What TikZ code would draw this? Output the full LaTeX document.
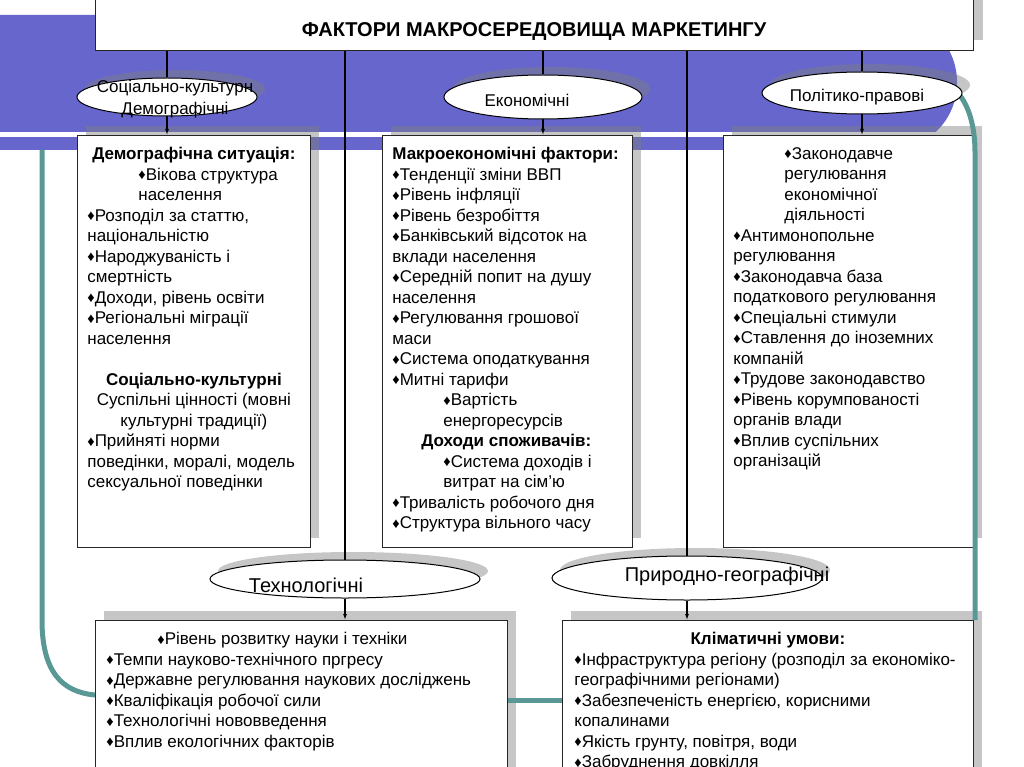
\documentclass[tikz,border=0pt]{standalone}
\usepackage{fontspec}
\setmainfont{Liberation Sans}
\usepackage{graphicx}
\usetikzlibrary{shapes.geometric, arrows.meta, shadows, positioning}
\definecolor{bandblue}{RGB}{102,102,204}
\definecolor{tealline}{RGB}{90,152,150}
\newcommand{\boxfont}{\fontsize{17}{20.5}\selectfont}
\newcommand{\dia}{\raisebox{0.5pt}{\scalebox{0.85}{♦}}}
\newcommand{\ind}{\hspace*{51pt}}
\newcommand{\centred}[1]{\makebox[\linewidth]{#1}}

\begin{document}
\begin{tikzpicture}[x=1pt, y=-1pt,
  titlebox/.style={draw=black!85, fill=white, line width=0.8pt, inner sep=0pt,
    minimum width=878pt, text height=41.5pt, text depth=13.5pt, anchor=base,
    drop shadow={shadow xshift=10pt, shadow yshift=10pt, fill=black!50, opacity=.45},
    font=\fontsize{20}{22}\selectfont\bfseries},
  factorbox/.style={draw=black!85, fill=white, line width=0.8pt, anchor=north west,
    inner xsep=10pt, inner ysep=12pt, font=\boxfont,
    drop shadow={shadow xshift=9pt, shadow yshift=9pt, fill=black!50, opacity=.45}},
  oval/.style={ellipse, draw=black, fill=white, line width=1pt, inner sep=0pt,
    drop shadow={shadow xshift=8pt, shadow yshift=8pt, fill=black!50, opacity=.45}},
  ovaltext/.style={align=center, inner sep=0pt, font=\fontsize{17}{22}\selectfont},
  bigovaltext/.style={align=center, inner sep=0pt, font=\fontsize{20}{22}\selectfont},
  link/.style={line width=1.1pt},
  feed/.style={line width=1.1pt, -{Latex[length=6pt,width=4pt]}},
  tealpath/.style={draw=tealline, line width=5pt}
]
\useasboundingbox (0,0) rectangle (1024,767);

% background band
\fill[bandblue] (0,15) [rounded corners=67pt] -- (957,15) -- (957,150) [sharp corners] -- (0,150) -- cycle;
\fill[white] (0,132) rectangle (960,137);

% title
\node[titlebox] (title) at (534,37) {ФАКТОРИ МАКРОСЕРЕДОВИЩА МАРКЕТИНГУ};

% factor boxes
\node[factorbox] (demo) at (77,135) {\parbox[t][388pt][t]{213pt}{\raggedright
  \centred{\textbf{Демографічна ситуація:}}\\
  \ind\dia Вікова структура\\
  \ind населення\\
  \dia Розподіл за статтю,\\
  національністю\\
  \dia Народжуваність і\\
  смертність\\
  \dia Доходи, рівень освіти\\
  \dia Регіональні міграції\\
  населення\\[20.5pt]
  \centred{\textbf{Соціально-культурні}}\\
  \centred{Суспільні цінності (мовні}\\
  \centred{культурні традиції)}\\
  \dia Прийняті норми\\
  поведінки, моралі, модель\\
  сексуальної поведінки}};

\node[factorbox] (ecbox) at (382,135) {\parbox[t][388pt][t]{230pt}{\raggedright
  \textbf{Макроекономічні фактори:}\\
  \dia Тенденції зміни ВВП\\
  \dia Рівень інфляції\\
  \dia Рівень безробіття\\
  \dia Банківський відсоток на\\
  вклади населення\\
  \dia Середній попит на душу\\
  населення\\
  \dia Регулювання грошової\\
  маси\\
  \dia Система оподаткування\\
  \dia Митні тарифи\\
  \ind\dia Вартість\\
  \ind енергоресурсів\\
  \hspace*{29pt}\textbf{Доходи споживачів:}\\
  \ind\dia Система доходів і\\
  \ind витрат на сім'ю\\
  \dia Тривалість робочого дня\\
  \dia Структура вільного часу}};

\node[factorbox] (polbox) at (723,135) {\parbox[t][388pt][t]{230pt}{\raggedright
  \ind\dia Законодавче\\
  \ind регулювання\\
  \ind економічної\\
  \ind діяльності\\
  \dia Антимонопольне\\
  регулювання\\
  \dia Законодавча база\\
  податкового регулювання\\
  \dia Спеціальні стимули\\
  \dia Ставлення до іноземних\\
  компаній\\
  \dia Трудове законодавство\\
  \dia Рівень корумпованості\\
  органів влади\\
  \dia Вплив суспільних\\
  організацій}};

\node[factorbox, inner xsep=11pt] (techbox) at (95,620) {\parbox[t][150pt][t]{390pt}{\raggedright
  \ind\dia Рівень розвитку науки і техніки\\
  \dia Темпи науково-технічного пргресу\\
  \dia Державне регулювання наукових досліджень\\
  \dia Кваліфікація робочої сили\\
  \dia Технологічні нововведення\\
  \dia Вплив екологічних факторів}};

\node[factorbox, inner xsep=12pt] (geobox) at (562,620) {\parbox[t][150pt][t]{387pt}{\raggedright
  \centred{\textbf{Кліматичні умови:}}\\
  \dia Інфраструктура регіону (розподіл за економіко-\\
  географічними регіонами)\\
  \dia Забезпеченість енергією, корисними\\
  копалинами\\
  \dia Якість грунту, повітря, води\\
  \dia Забруднення довкілля}};

% teal curves
\coordinate (tealtop) at (42,150);
\coordinate (polend) at (955,90);
\draw[tealpath] (tealtop) -- (42,620) .. controls (42,672) and (62,692) .. (techbox.west |- 0,695);
\draw[tealpath] (polend) .. controls (968,102) and (975,125) .. (975,152) -- (geobox.north east -| 975,0);
\draw[tealpath] (techbox.east |- 0,700) -- (geobox.west |- 0,700);

% factor ovals
\node[oval, minimum width=180pt, minimum height=38pt] (soc) at (167,97) {};
\node[ovaltext] (soctext) at (175,99) {Соціально-культурн\\Демографічні};
\node[oval, minimum width=198pt, minimum height=44pt] (econ) at (543,97) {};
\node[ovaltext] (econtext) at (527,100) {Економічні};
\node[oval, minimum width=200pt, minimum height=42pt] (pol) at (862,93) {};
\node[ovaltext] (poltext) at (857,97) {Політико-правові};
\node[oval, minimum width=270pt, minimum height=38pt] (tech) at (345,579) {};
\node[bigovaltext] (techtext) at (306,585) {Технологічні};
\node[oval, minimum width=270pt, minimum height=44pt] (geo) at (687,578) {};
\node[bigovaltext] (geotext) at (727,576) {Природно-географічні};

% connectors
\draw[link] (title.south -| soc.north) -- (soc.north);
\draw[link] (title.south -| econ.north) -- (econ.north);
\draw[link] (title.south -| pol.north) -- (pol.north);
\draw[link] (title.south -| tech.north) -- (tech.north);
\draw[link] (title.south -| geo.north) -- (geo.north);
\draw[feed] (soc.south) -- (soc.south |- demo.north);
\draw[feed] (econ.south) -- (econ.south |- ecbox.north);
\draw[feed] (pol.south) -- (pol.south |- polbox.north);
\draw[feed] (tech.south) -- (tech.south |- techbox.north);
\draw[feed] (geo.south) -- (geo.south |- geobox.north);
\end{tikzpicture}
\end{document}
